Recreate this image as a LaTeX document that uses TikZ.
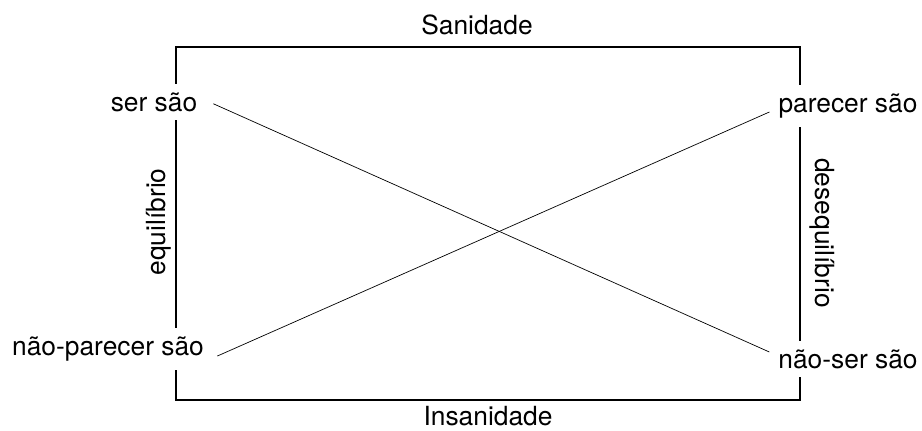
\documentclass[tikz,border=0pt]{standalone}
\usepackage{fontspec}
\setmainfont{TeX Gyre Heros}
\begin{document}
\begin{tikzpicture}[x=0.02cm, y=-0.02cm, font=\fontsize{15}{18}\selectfont]
			\tikzset{lbl/.style={shape=rectangle, fill=white, inner xsep=3pt, inner ysep=5pt},
				side/.style={shape=rectangle, inner sep=2pt}}
			\useasboundingbox (0, 0) rectangle (922, 430);
			\draw[line width=0.9pt, line join=miter] (176, 47) rectangle (800, 400);
			\node[side](N1) at (477, 25){Sanidade};
			\node[side](N2) at (488, 416){Insanidade};
			\node[lbl](N3) at (154, 102){ser são};
			\node[lbl](N4) at (848, 106){parecer são};
			\node[lbl](N5) at (108, 349){não-parecer são};
			\node[lbl](N6) at (848, 359){não-ser são};
			\node[side, rotate=90](N7) at (159, 222){equilíbrio};
			\node[side, rotate=-90](N8) at (822, 233){desequilíbrio};
			\draw[line width=0.4pt] ([xshift=6pt, yshift=-1pt]N3.east) -- ([xshift=-2pt, yshift=4pt]N6.west);
			\draw[line width=0.4pt] ([xshift=4.5pt, yshift=-4pt]N5.east) -- ([xshift=-2pt, yshift=-3.4pt]N4.west);
		\end{tikzpicture}
\end{document}
